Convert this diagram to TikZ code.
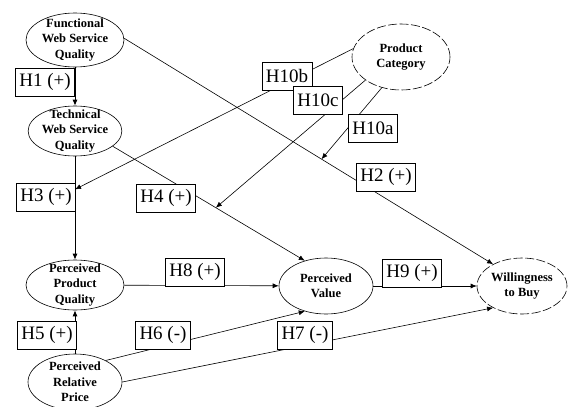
\documentclass[tikz,border=0pt]{standalone}
\usepackage{fontspec}
\setmainfont{Liberation Serif}
\usetikzlibrary{arrows.meta,calc,shapes.geometric}

\begin{document}
\begin{tikzpicture}[
  x=1pt, y=-1pt,
  construct/.style={draw, ellipse, align=center, inner xsep=0pt, inner ysep=-8pt, line width=0.6pt, font=\bfseries\fontsize{12.5}{15.5}\selectfont},
  latent/.style={construct, dash pattern=on 9pt off 2.5pt},
  hyp/.style={draw, fill=white, inner xsep=4pt, inner ysep=0pt, minimum height=28pt, line width=0.7pt, font=\fontsize{19}{19}\selectfont},
  arrow/.style={-{Latex[length=6pt,width=5pt]}, line width=0.6pt},
  main/.style={arrow, line width=0.9pt}
]
\useasboundingbox (0,0) rectangle (568,407);

% constructs
\node[construct, minimum width=98pt, minimum height=54pt] (func) at (75,40) {Functional\\Web Service\\Quality};
\node[construct, minimum width=92pt, minimum height=50pt] (tech) at (75,131) {Technical\\Web Service\\Quality};
\node[latent, minimum width=98pt, minimum height=66pt] (cat) at (401,57) {Product\\Category};
\node[construct, minimum width=98pt, minimum height=50pt] (ppq) at (75,285) {Perceived\\Product\\Quality};
\node[construct, minimum width=94pt, minimum height=56pt] (price) at (75,382) {Perceived\\Relative\\Price};
\node[construct, minimum width=94pt, minimum height=56pt] (pv) at (326,286) {Perceived\\Value};
\node[latent, minimum width=90pt, minimum height=56pt] (wtb) at (522,286) {Willingness\\to Buy};

% points where the moderators meet the paths
\coordinate (m1) at ($(func.2)!0.535!(wtb.143)$);
\coordinate (m2) at ($(tech.-22)!0.537!(pv.130)$);
\coordinate (m3) at ($(tech.south)!0.32!(ppq.north)$);

% paths
\draw[main] (func) -- (tech);
\draw[main] (tech) -- (ppq);
\draw[main] (price) -- (ppq);
\draw[arrow] (func.2) -- (wtb.143);
\draw[arrow] (tech.-22) -- (pv.130);
\draw[arrow] (ppq) -- (pv);
\draw[arrow] (pv) -- (wtb);
\draw[arrow] (price.35) -- (pv.230);
\draw[arrow] (price.east) -- (wtb.217);
\draw[arrow] (cat.170) -- (m3);
\draw[arrow] (cat.213) -- (m2);
\draw[arrow] (cat.238) -- (m1);

% hypotheses
\node[hyp, anchor=east] (h1) at (75,82) {H1 (+)};
\node[hyp, anchor=east] (h3) at (76,197) {H3 (+)};
\node[hyp, anchor=east] (h5) at (77,335) {H5 (+)};
\node[hyp] (h10b) at (287,76) {H10b};
\node[hyp] (h10c) at (318,100) {H10c};
\node[hyp] (h10a) at (373,128) {H10a};
\node[hyp] (h2) at (386,177) {H2 (+)};
\node[hyp] (h4) at (166,198) {H4 (+)};
\node[hyp] (h8) at (195,272) {H8 (+)};
\node[hyp] (h9) at (412,273) {H9 (+)};
\node[hyp] (h6) at (163,335) {H6 (-)};
\node[hyp] (h7) at (305,335) {H7 (-)};
\end{tikzpicture}
\end{document}
